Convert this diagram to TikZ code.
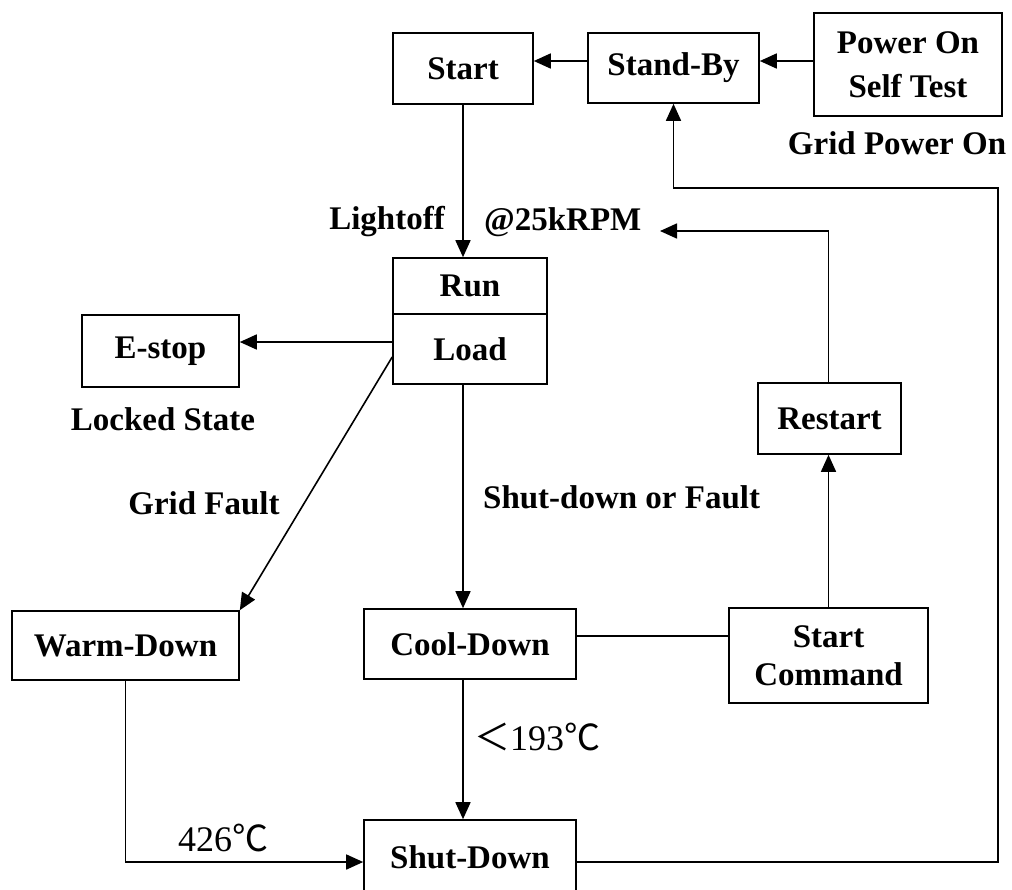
\documentclass[tikz,border=0pt]{standalone}
\usepackage{fontspec}
\setmainfont{Liberation Serif}
\newfontfamily\cjkfont{Noto Sans CJK SC}
\usetikzlibrary{arrows.meta}
\begin{document}
\begin{tikzpicture}[x=1pt,y=-1pt,
  font=\fontsize{33}{38}\selectfont\bfseries,
  box/.style n args={2}{draw, line width=1.6pt, minimum width=#1, minimum height=#2, inner sep=0pt, align=center},
  conn/.style={line width=1.6pt},
  arr/.style={conn, -{Triangle[length=17pt,width=15pt]}},
  lbl/.style={inner sep=0pt},
  deg/.style={inner sep=0pt, font=\fontsize{36}{40}\selectfont\mdseries}]
\useasboundingbox (0,0) rectangle (1012,889);
\fill[white] (0,0) rectangle (1012,889);
\clip (0,0) rectangle (1012,889);

% boxes
\node[box={140}{71}] (start) at (463,68.5) {Start};
\node[box={171}{70}] (standby) at (673.5,68) {\raisebox{-2pt}{Stand-By}};
\node[box={188}{103}, font=\fontsize{33}{44}\selectfont\bfseries] (power) at (908,64.5) {Power On\\Self Test};
\node[box={154}{56}] (run) at (470,286) {\raisebox{-5pt}{Run}};
\node[box={154}{70}] (load) at (470,349) {Load};
\node[box={157}{72}] (estop) at (160.5,351) {E-stop};
\node[box={143}{71}] (restart) at (829.5,418.5) {Restart};
\node[box={227}{69}] (warm) at (125.5,645.5) {Warm-Down};
\node[box={212}{70}] (cool) at (470,644) {Cool-Down};
\node[box={199}{95}] (startcmd) at (828.5,655.5) {Start\\Command};
\node[box={212}{80}] (shutdown) at (470,860) {\raisebox{6pt}{Shut-Down}};

% labels
\node[lbl] (gpo) at (897,143) {Grid Power On};
\node[lbl, anchor=east] (lightoff) at (445,222) {Lightoff};
\node[lbl, anchor=west] (krpm) at (484,222) {@25kRPM};
\node[lbl] (locked) at (163,419) {Locked State};
\node[lbl] (gridfault) at (204,503) {Grid Fault};
\node[lbl, anchor=west] (sdf) at (483,497) {Shut-down or Fault};
\node[deg] (t193) at (537,737) {{\cjkfont ＜}193{\cjkfont ℃}};
\node[deg] (t426) at (223,838) {426{\cjkfont ℃}};

% helper coordinates
\coordinate (yA) at (0,61);
\coordinate (yE) at (0,342);
\coordinate (yG) at (0,357);
\coordinate (yB) at (0,862);
\coordinate (yC) at (0,636);
\coordinate (yH) at (0,188);
\coordinate (rx) at (998,0);
\coordinate (rpm) at (660,231);

% connectors
\draw[arr] (power.west |- yA) -- (standby.east |- yA);
\draw[arr] (standby.west |- yA) -- (start.east |- yA);
\draw[arr] (start.south) -- (start.south |- run.north);
\draw[arr] (load.west |- yE) -- (estop.east |- yE);
\draw[arr] (load.west |- yG) -- (warm.north east);
\draw[arr] (load.south -| start.south) -- (cool.north -| start.south);
\draw[arr] (cool.south -| start.south) -- (shutdown.north -| start.south);
\draw[arr] (warm.south) |- (shutdown.west |- yB);
\draw[arr] (shutdown.east |- yB) -| (rx |- yH) -| (standby.south);
\draw[conn] (cool.east |- yC) -- (startcmd.west |- yC);
\draw[arr] (startcmd.north) -- (startcmd.north |- restart.south);
\draw[arr] (restart.north -| startcmd.north) |- (rpm);
\end{tikzpicture}
\end{document}
